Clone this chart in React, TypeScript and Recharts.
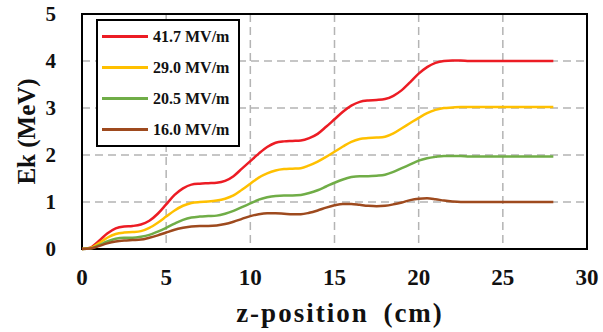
import {
  CartesianGrid,
  Line,
  LineChart,
  ReferenceArea,
  XAxis,
  YAxis,
} from "recharts";

const zPos = [
  0, 0.5, 1, 1.5, 2, 2.5, 3, 3.5, 4, 4.5,
  5, 5.5, 6, 6.5, 7, 7.5, 8, 8.5, 9, 9.5,
  10, 10.5, 11, 11.5, 12, 12.5, 13, 13.5, 14, 14.5,
  15, 15.5, 16, 16.5, 17, 17.5, 18, 18.5, 19, 19.5,
  20, 20.5, 21, 21.5, 22, 22.5, 23,
  24, 25, 26, 27, 28,
];

const ek417 = [
  0, 0.03, 0.17, 0.33, 0.44, 0.48, 0.49, 0.52, 0.6, 0.75,
  0.95, 1.15, 1.29, 1.37, 1.39, 1.4, 1.41, 1.45, 1.55, 1.71,
  1.87, 2.03, 2.17, 2.26, 2.29, 2.3, 2.31, 2.36, 2.45, 2.6,
  2.76, 2.92, 3.05, 3.13, 3.16, 3.17, 3.19, 3.26, 3.38, 3.55,
  3.73, 3.87, 3.96, 4.0, 4.01, 4.01, 4.0,
  4.0, 4.0, 4.0, 4.0, 4.0,
];

const ek290 = [
  0, 0.02, 0.12, 0.24, 0.32, 0.35, 0.36, 0.38, 0.45, 0.56,
  0.69, 0.82, 0.92, 0.98, 1.0, 1.01, 1.03, 1.07, 1.14, 1.26,
  1.39, 1.52, 1.61, 1.67, 1.7, 1.71, 1.72, 1.78, 1.86, 1.96,
  2.07, 2.18, 2.28, 2.34, 2.36, 2.37, 2.39, 2.46, 2.57, 2.68,
  2.79, 2.89, 2.96, 3.0, 3.01, 3.02, 3.02,
  3.02, 3.02, 3.02, 3.02, 3.02,
];

const ek205 = [
  0, 0.01, 0.08, 0.16, 0.22, 0.24, 0.24, 0.26, 0.3, 0.37,
  0.45, 0.54, 0.62, 0.67, 0.69, 0.7, 0.71, 0.75, 0.81, 0.89,
  0.97, 1.05, 1.1, 1.13, 1.14, 1.14, 1.15, 1.19, 1.25, 1.33,
  1.41, 1.48, 1.53, 1.55, 1.55, 1.56, 1.58, 1.64, 1.72, 1.8,
  1.88, 1.93, 1.96, 1.98, 1.98, 1.98, 1.97,
  1.97, 1.97, 1.97, 1.97, 1.97,
];

const ek160 = [
  0, 0.01, 0.06, 0.12, 0.16, 0.18, 0.19, 0.2, 0.24, 0.29,
  0.35, 0.41, 0.45, 0.48, 0.49, 0.49, 0.5, 0.53, 0.58, 0.64,
  0.7, 0.74, 0.76, 0.76, 0.75, 0.74, 0.74, 0.77, 0.82, 0.88,
  0.93, 0.96, 0.96, 0.94, 0.92, 0.91, 0.92, 0.95, 0.99, 1.04,
  1.07, 1.08, 1.06, 1.03, 1.01, 1.0, 1.0,
  1.0, 1.0, 1.0, 1.0, 1.0,
];

const xTicks = [0, 5, 10, 15, 20, 25, 30];
const yTicks = [0, 1, 2, 3, 4, 5];

const series = [
  { key: "e417", label: "41.7 MV/m", color: "#ec1c24" },
  { key: "e290", label: "29.0 MV/m", color: "#ffc000" },
  { key: "e205", label: "20.5 MV/m", color: "#70ad47" },
  { key: "e160", label: "16.0 MV/m", color: "#9e4a1e" },
] as const;

const data = zPos.map((z, i) => ({
  z,
  e417: ek417[i],
  e290: ek290[i],
  e205: ek205[i],
  e160: ek160[i],
}));

const serif = "Liberation Serif, Times New Roman, serif";

function LegendBox() {
  return (
    <div
      style={{
        position: "absolute",
        left: 96,
        top: 19,
        width: 140,
        height: 124,
        border: "2px solid #000",
        background: "#fff",
        fontFamily: serif,
        fontWeight: 700,
        fontSize: 16,
        color: "#111",
      }}
    >
      {series.map((s) => (
        <div
          key={s.key}
          style={{ display: "flex", alignItems: "center", height: 31 }}
        >
          <span
            style={{
              display: "inline-block",
              width: 46,
              height: 3,
              marginLeft: 4,
              marginRight: 5,
              background: s.color,
            }}
          />
          {s.label}
        </div>
      ))}
    </div>
  );
}

function YTitle(props: any) {
  const vb = props.viewBox || { y: 14, height: 235 };
  const cy = vb.y + vb.height / 2;
  return (
    <text
      x={26}
      y={cy}
      transform={`rotate(-90, 26, ${cy})`}
      textAnchor="middle"
      dominantBaseline="central"
      fontFamily={serif}
      fontWeight={700}
      fontSize={25}
      fill="#111"
    >
      Ek (MeV)
    </text>
  );
}

function XTitle() {
  return (
    <text
      x={340}
      y={322}
      textAnchor="middle"
      fontFamily={serif}
      fontWeight={700}
      fontSize={27}
      letterSpacing={2}
      wordSpacing={6}
      fill="#111"
    >
      z-position (cm)
    </text>
  );
}

export default function App() {
  return (
    <div style={{ position: "absolute", left: 0, top: 0, background: "#fff" }}>
      <LineChart
        width={603}
        height={332}
        data={data}
        margin={{ top: 14, right: 16, bottom: 23, left: 0 }}
      >
        <CartesianGrid
          stroke="#b4b4b4"
          strokeWidth={1.5}
          strokeDasharray="8 5"
        />
        <XAxis
          dataKey="z"
          type="number"
          domain={[0, 30]}
          ticks={xTicks}
          height={60}
          axisLine={false}
          tickLine={false}
          tickSize={0}
          tickMargin={20}
          tick={{ fill: "#111", fontSize: 23, fontWeight: 700, fontFamily: serif }}
          label={<XTitle />}
        />
        <YAxis
          type="number"
          domain={[0, 5]}
          ticks={yTicks}
          width={82}
          axisLine={false}
          tickLine={false}
          tickSize={0}
          tickMargin={26}
          tick={{ fill: "#111", fontSize: 21, fontWeight: 700, fontFamily: serif }}
          label={<YTitle />}
        />
        <ReferenceArea
          x1={0}
          x2={30}
          y1={0}
          y2={5}
          fill="none"
          stroke="#000"
          strokeWidth={2}
        />
        {series.map((s) => (
          <Line
            key={s.key}
            type="monotone"
            dataKey={s.key}
            name={s.label}
            stroke={s.color}
            strokeWidth={2.5}
            dot={false}
            isAnimationActive={false}
          />
        ))}
      </LineChart>
      <LegendBox />
    </div>
  );
}
